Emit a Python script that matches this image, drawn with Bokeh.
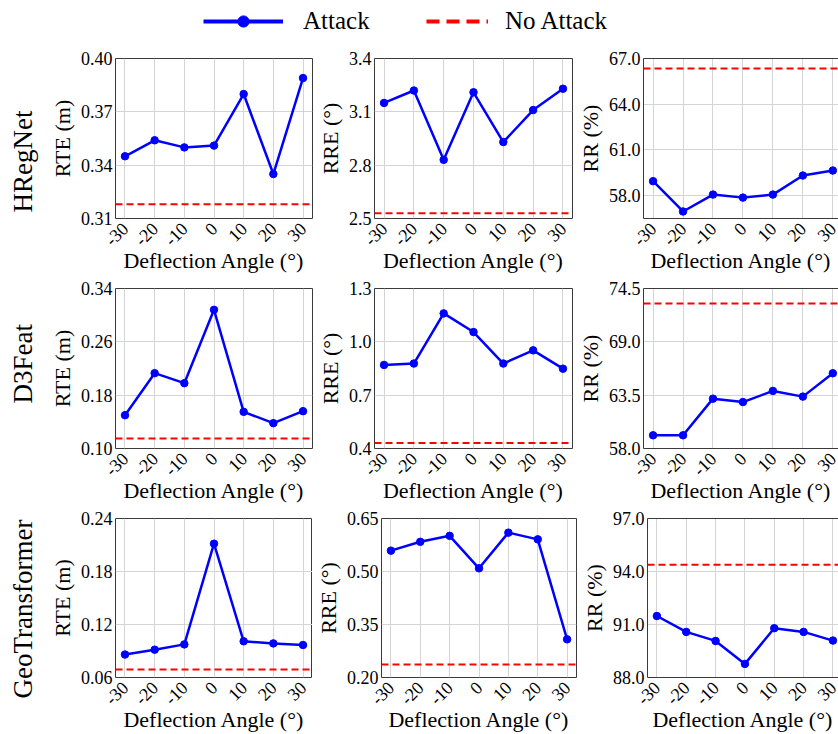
import math
from bokeh.plotting import figure
from bokeh.layouts import column, row
from bokeh.models import (Range1d, FixedTicker, PrintfTickFormatter, Span, Title,
                          Legend, LegendItem, LinearAxis)
from bokeh.embed import file_html
from bokeh.resources import INLINE

FONT = "Liberation Serif"

# ---------------- data ----------------
angles = [-30, -20, -10, 0, 10, 20, 30]
angle_labels = ["-30", "-20", "-10", "0", "10", "20", "30"]
methods = ["HRegNet", "D3Feat", "GeoTransformer"]
metrics = ["RTE (m)", "RRE (°)", "RR (%)"]
x_title = "Deflection Angle (°)"
legend_labels = ["Attack", "No Attack"]

hregnet_rte = [0.345, 0.354, 0.350, 0.351, 0.380, 0.335, 0.389]
hregnet_rre = [3.15, 3.22, 2.83, 3.21, 2.93, 3.11, 3.23]
hregnet_rr = [58.95, 56.96, 58.07, 57.87, 58.07, 59.32, 59.65]
d3feat_rte = [0.150, 0.213, 0.198, 0.308, 0.155, 0.138, 0.156]
d3feat_rre = [0.870, 0.878, 1.160, 1.055, 0.878, 0.952, 0.849]
d3feat_rr = [59.36, 59.36, 63.14, 62.79, 63.94, 63.35, 65.76]
geo_rte = [0.086, 0.0915, 0.0975, 0.2115, 0.101, 0.0986, 0.0968]
geo_rre = [0.559, 0.584, 0.601, 0.509, 0.610, 0.591, 0.308]
geo_rr = [91.48, 90.58, 90.07, 88.77, 90.79, 90.58, 90.09]

hregnet_no_attack = [0.318, 2.53, 66.34]
d3feat_no_attack = [0.115, 0.431, 72.96]
geo_no_attack = [0.069, 0.237, 94.38]

hregnet_ticks = [[0.31, 0.34, 0.37, 0.40], [2.5, 2.8, 3.1, 3.4], [58.0, 61.0, 64.0, 67.0]]
d3feat_ticks = [[0.10, 0.18, 0.26, 0.34], [0.4, 0.7, 1.0, 1.3], [58.0, 63.5, 69.0, 74.5]]
geo_ticks = [[0.06, 0.12, 0.18, 0.24], [0.20, 0.35, 0.50, 0.65], [88.0, 91.0, 94.0, 97.0]]

hregnet_ylim = [(0.31, 0.40), (2.5, 3.4), (56.5, 67.0)]
d3feat_ylim = [(0.10, 0.34), (0.4, 1.3), (58.0, 74.5)]
geo_ylim = [(0.06, 0.24), (0.20, 0.65), (88.0, 97.0)]

hregnet_fmt = ["%.2f", "%.1f", "%.1f"]
d3feat_fmt = ["%.2f", "%.1f", "%.1f"]
geo_fmt = ["%.2f", "%.2f", "%.1f"]

attack_series = [[hregnet_rte, hregnet_rre, hregnet_rr],
                 [d3feat_rte, d3feat_rre, d3feat_rr],
                 [geo_rte, geo_rre, geo_rr]]
no_attack = [hregnet_no_attack, d3feat_no_attack, geo_no_attack]
all_ticks = [hregnet_ticks, d3feat_ticks, geo_ticks]
all_ylim = [hregnet_ylim, d3feat_ylim, geo_ylim]
all_fmt = [hregnet_fmt, d3feat_fmt, geo_fmt]

# ---------------- layout params ----------------
FRAME_W = 204
FRAME_W3 = 200
X_START = -33.2
X_END = 33.2
X_END3 = X_START + (X_END - X_START) * FRAME_W3 / FRAME_W
LEGEND_H = 46
TOP_B = 12
FRAME_H = 160
BOT_B = [58, 58, 56]
LEFT1 = 108
# per row: (col1 right border, col2 left border, col2 right border, col3 left border)
row_borders = [(2, 54, 2, 64), (2, 54, 2, 64), (0, 60, 2, 60)]
title_offsets = [6, 45, -21]

overrides = {a: l for a, l in zip(angles, angle_labels)}
GRID = "#d4d4d4"
FRAME_COL = "#3a3a3a"


def make_cell(r, c):
    rb1, lb2, rb2, lb3 = row_borders[r]
    if c == 0:
        lb, rb, fw, xe = LEFT1, rb1, FRAME_W, X_END
    elif c == 1:
        lb, rb, fw, xe = lb2, rb2, FRAME_W, X_END
    else:
        lb, rb, fw, xe = lb3, 0, FRAME_W3, X_END3
    lo, hi = all_ylim[r][c]
    p = figure(width=lb + fw + rb, height=TOP_B + FRAME_H + BOT_B[r],
               x_range=Range1d(X_START, xe), y_range=Range1d(lo, hi),
               output_backend="svg", toolbar_location=None,
               min_border_left=lb, min_border_right=rb,
               min_border_top=TOP_B, min_border_bottom=BOT_B[r])
    p.background_fill_color = "white"
    p.border_fill_color = "white"

    xa = p.xaxis[0]
    xa.ticker = FixedTicker(ticks=angles)
    xa.major_label_overrides = overrides
    xa.major_label_orientation = math.pi / 4
    xa.major_label_text_font = FONT
    xa.major_label_text_font_size = "18px"
    xa.major_label_text_color = "black"
    xa.major_label_standoff = 7
    xa.axis_label = x_title
    xa.axis_label_text_font = FONT
    xa.axis_label_text_font_size = "22px"
    xa.axis_label_text_font_style = "normal"
    xa.axis_label_text_color = "black"
    xa.axis_label_standoff = -7
    xa.major_tick_line_color = None
    xa.minor_tick_line_color = None
    xa.major_tick_out = 0
    xa.major_tick_in = 0

    ya = p.yaxis[0]
    ya.ticker = FixedTicker(ticks=all_ticks[r][c])
    ya.formatter = PrintfTickFormatter(format=all_fmt[r][c])
    ya.major_label_text_font = FONT
    ya.major_label_text_font_size = "18px"
    ya.major_label_text_color = "black"
    ya.major_label_standoff = 3
    ya.axis_label = metrics[c]
    ya.axis_label_text_font = FONT
    ya.axis_label_text_font_size = "22px"
    ya.axis_label_text_font_style = "normal"
    ya.axis_label_text_color = "black"
    ya.axis_label_standoff = 3
    ya.major_tick_line_color = None
    ya.minor_tick_line_color = None
    ya.major_tick_out = 0
    ya.major_tick_in = 0

    p.xgrid.grid_line_color = GRID
    p.ygrid.grid_line_color = GRID

    if c < 2:
        p.outline_line_color = FRAME_COL
        p.outline_line_width = 1
        p.outline_line_alpha = 1
        xa.axis_line_color = None
        ya.axis_line_color = None
    else:
        # frame cut at the right edge of the picture: left/bottom/top only
        p.outline_line_color = None
        xa.axis_line_color = FRAME_COL
        ya.axis_line_color = FRAME_COL
        top = LinearAxis(ticker=FixedTicker(ticks=[]), axis_line_color=FRAME_COL,
                         major_tick_line_color=None, minor_tick_line_color=None,
                         major_label_text_font_size="0px", major_tick_out=0,
                         major_label_standoff=0)
        p.add_layout(top, "above")

    p.add_layout(Span(location=no_attack[r][c], dimension="width", line_color="red",
                      line_width=2, line_dash="7 4"))
    p.line(angles, attack_series[r][c], line_color="blue", line_width=2.5)
    p.scatter(angles, attack_series[r][c], size=7.5, color="blue")

    if c == 0:
        t = Title(text=methods[r], align="left", offset=title_offsets[r], standoff=14,
                  vertical_align="top",
                  text_font=FONT, text_font_size="27px", text_font_style="normal",
                  text_color="black")
        p.add_layout(t, "left")
    return p


# ---------------- legend ----------------
TOTAL_W = 838
lp = figure(width=TOTAL_W, height=LEGEND_H, output_backend="svg", toolbar_location=None,
            x_range=Range1d(1000, 1001), y_range=Range1d(1000, 1001), min_border=0)
lp.axis.visible = False
lp.grid.visible = False
lp.outline_line_color = None
lp.background_fill_color = "white"
# legend-only renderers (data lies outside this strip's ranges)
r_line = lp.line(angles, hregnet_rte, line_color="blue", line_width=4)
r_pt = lp.scatter(angles, hregnet_rte, size=12, color="blue")
r_dash = lp.line(angles, hregnet_rte, line_color="red", line_width=4, line_dash="13 7")

leg_common = dict(border_line_color=None, background_fill_alpha=0, padding=0, margin=0,
                  spacing=0, glyph_height=28, label_height=28,
                  label_text_font=FONT, label_text_font_size="25px",
                  label_text_color="black", label_text_baseline="middle")
leg1 = Legend(items=[LegendItem(label=legend_labels[0], renderers=[r_line, r_pt])],
              location=(203, 11), glyph_width=80, label_standoff=20, **leg_common)
leg2 = Legend(items=[LegendItem(label=legend_labels[1], renderers=[r_dash])],
              location=(426, 11), glyph_width=62, label_standoff=17, **leg_common)
lp.add_layout(leg1, "center")
lp.add_layout(leg2, "center")

rows = [row(*[make_cell(r, c) for c in range(3)], spacing=0) for r in range(3)]
layout = column(lp, *rows, spacing=0)

open("out.html", "w").write(file_html(layout, INLINE))
